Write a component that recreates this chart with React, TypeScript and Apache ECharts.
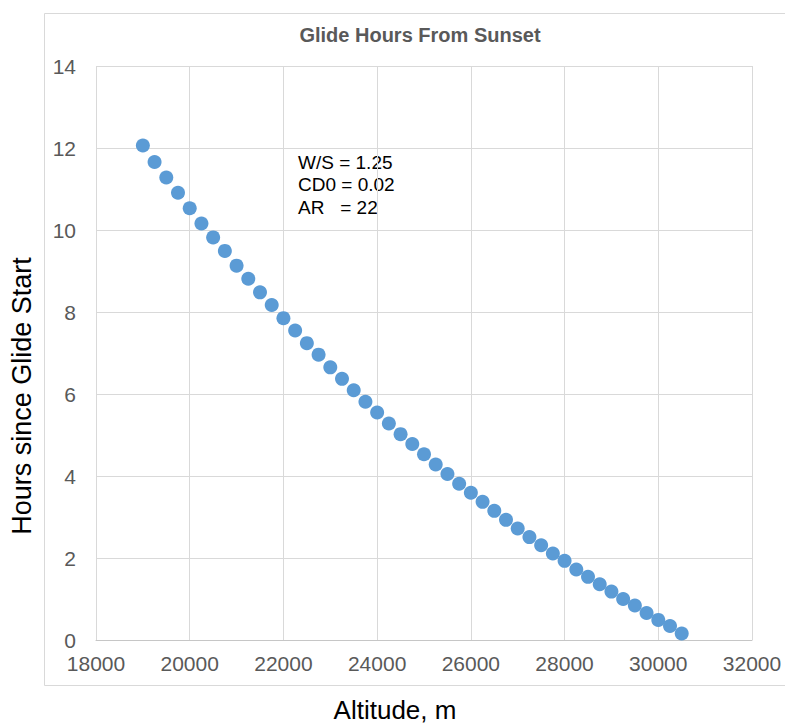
import React, { useEffect, useRef } from "react";
import * as echarts from "echarts";

const altitudes = [
  19000, 19250, 19500, 19750, 20000, 20250, 20500, 20750, 21000, 21250,
  21500, 21750, 22000, 22250, 22500, 22750, 23000, 23250, 23500, 23750,
  24000, 24250, 24500, 24750, 25000, 25250, 25500, 25750, 26000, 26250,
  26500, 26750, 27000, 27250, 27500, 27750, 28000, 28250, 28500, 28750,
  29000, 29250, 29500, 29750, 30000, 30250, 30500,
];

const hours = [
  12.06, 11.66, 11.28, 10.91, 10.53, 10.16, 9.82, 9.49, 9.13, 8.81,
  8.48, 8.17, 7.85, 7.55, 7.24, 6.96, 6.65, 6.37, 6.09, 5.81,
  5.55, 5.28, 5.02, 4.78, 4.53, 4.28, 4.05, 3.81, 3.59, 3.37,
  3.15, 2.93, 2.72, 2.51, 2.31, 2.11, 1.93, 1.72, 1.54, 1.36,
  1.18, 1.0, 0.84, 0.66, 0.49, 0.34, 0.16,
];

const titleText = "Glide Hours From Sunset";
const xAxisName = "Altitude, m";
const yAxisName = "Hours since Glide Start";
const annotationLines = ["W/S = 1.25", "CD0 = 0.02", "AR   = 22"];

const FONT = "'Liberation Sans', Arial, Helvetica, sans-serif";

export default function App() {
  const ref = useRef<HTMLDivElement>(null);

  useEffect(() => {
    if (!ref.current) return;
    const chart = echarts.init(ref.current, null, { renderer: "svg" });
    const points = altitudes.map((a, i) => [a, hours[i]]);
    chart.setOption({
      animation: false,
      backgroundColor: "#ffffff",
      textStyle: { fontFamily: FONT },
      grid: { left: 96, top: 66, right: 33, bottom: 85, containLabel: false },
      xAxis: {
        type: "value",
        min: 18000,
        max: 32000,
        interval: 2000,
        axisLine: { show: true, lineStyle: { color: "#c6c6c6", width: 1 } },
        axisTick: { show: false },
        splitLine: { show: true, lineStyle: { color: "#d9d9d9", width: 1 } },
        axisLabel: {
          color: "#595959",
          fontSize: 21,
          fontFamily: FONT,
          margin: 13,
          formatter: (v: number) => String(v),
        },
      },
      yAxis: {
        type: "value",
        min: 0,
        max: 14,
        interval: 2,
        axisLine: { show: false },
        axisTick: { show: false },
        splitLine: { show: true, lineStyle: { color: "#d9d9d9", width: 1 } },
        axisLabel: {
          color: "#595959",
          fontSize: 21,
          fontFamily: FONT,
          margin: 20,
          formatter: (v: number) => String(v),
        },
      },
      series: [
        {
          type: "scatter",
          data: points,
          symbol: "circle",
          symbolSize: 14,
          itemStyle: { color: "#5B9BD5", opacity: 1 },
        },
      ],
      graphic: [
        {
          type: "rect",
          silent: true,
          z: -10,
          shape: { x: 44.5, y: 13.5, width: 760, height: 672 },
          style: { fill: "none", stroke: "#d9d9d9", lineWidth: 1 },
        },
        {
          type: "text",
          x: 420,
          y: 35,
          style: {
            text: titleText,
            fontFamily: FONT,
            fontSize: 20,
            fontWeight: "bold",
            fill: "#595959",
            textAlign: "center",
            textVerticalAlign: "middle",
          },
        },
        {
          type: "text",
          x: 22,
          y: 396,
          rotation: Math.PI / 2,
          style: {
            text: yAxisName,
            fontFamily: FONT,
            fontSize: 27,
            fill: "#000000",
            textAlign: "center",
            textVerticalAlign: "middle",
          },
        },
        {
          type: "text",
          x: 395,
          y: 710,
          style: {
            text: xAxisName,
            fontFamily: FONT,
            fontSize: 26,
            fill: "#000000",
            textAlign: "center",
            textVerticalAlign: "middle",
          },
        },
        ...annotationLines.map((line, i) => ({
          type: "text",
          x: 298,
          y: 162 + i * 22.5,
          style: {
            text: line,
            fontFamily: FONT,
            fontSize: 19,
            fill: "#000000",
            textAlign: "left",
            textVerticalAlign: "middle",
          },
        })),
      ],
    });
    return () => chart.dispose();
  }, []);

  return (
    <div
      ref={ref}
      style={{ position: "absolute", left: 0, top: 0, width: 785, height: 725 }}
    />
  );
}
